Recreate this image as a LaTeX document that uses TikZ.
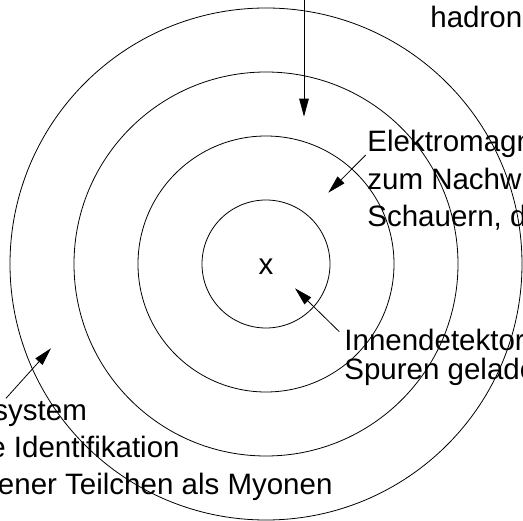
\documentclass[tikz,border=0pt]{standalone}
\usepackage{fontspec}
\setmainfont{Liberation Sans}
\usetikzlibrary{arrows.meta}
\begin{document}
\begin{tikzpicture}[x=1pt,y=-1pt,line width=0.8pt,
    >={Triangle[length=18pt,width=9.5pt]},
    lbl/.style={inner sep=0pt,align=left,font=\fontsize{29.5}{37.5}\selectfont}]
  \useasboundingbox (0,0) rectangle (523,521);
  \clip (0,0) rectangle (523,521);
  \node [inner sep=0pt,font=\fontsize{29.5}{37.5}\selectfont] (x) at (266,266.7) {x};
  \foreach \r in {64,128,192,256}
    \draw (266,264) circle [radius=\r pt];

  \node [lbl,anchor=base west] (had) at (430,28) {hadron};
  \node [lbl,anchor=base west] (em) at (367,226.7) {Elektromagn\\zum Nachw\\Schauern, d};
  \node [lbl,anchor=base west,font=\fontsize{29.5}{28.7}\selectfont] (inn) at (344,379.3) {Innendetektor\\Spuren gelade};
  \node [lbl,anchor=base west,font=\fontsize{29.5}{37.2}\selectfont] (muon) at (-11,495)
    {\hspace*{4pt}system\\e Identifikation\\\hspace*{8.6pt}ener Teilchen als Myonen};

  \coordinate (hadtop) at (304,-2);
  \coordinate (hadtip) at (304,116.7);
  \coordinate (emtip) at (328.3,192.7);
  \coordinate (inntip) at (295,288.3);
  \coordinate (muontip) at (51,348.3);

  \draw[->] (hadtop) -- (hadtip);
  \draw[->] ([shift={(-1.3,-71.7)}]em.base west) -- (emtip);
  \draw[->] ([shift={(-4.7,-47.6)}]inn.base west) -- (inntip);
  \draw[->] ([shift={(17,-96.7)}]muon.base west) -- (muontip);
\end{tikzpicture}
\end{document}
